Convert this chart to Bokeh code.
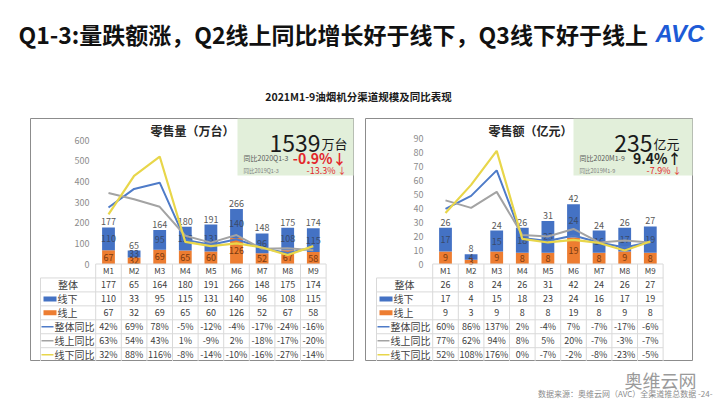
from bokeh.plotting import figure
from bokeh.models import Range1d, LinearAxis, FixedTicker, Spacer
from bokeh.layouts import column, row
from bokeh.embed import file_html
from bokeh.resources import INLINE
from bokeh.core.properties import value

# ---------------- data ----------------
months = ["M1", "M2", "M3", "M4", "M5", "M6", "M7", "M8", "M9"]
row_labels = ["整体", "线下", "线上", "整体同比", "线上同比", "线下同比"]

vol_total = [177, 65, 164, 180, 191, 266, 148, 175, 174]
vol_offline = [110, 33, 95, 115, 131, 140, 96, 108, 115]
vol_online = [67, 32, 69, 65, 60, 126, 52, 67, 58]
vol_yoy_total = [42, 69, 78, -5, -12, -4, -17, -24, -16]
vol_yoy_online = [63, 54, 43, 1, -9, 2, -18, -17, -20]
vol_yoy_offline = [32, 88, 116, -8, -14, -10, -16, -27, -14]
vol_ticks = [0, 100, 200, 300, 400, 500, 600]

amt_total = [26, 8, 24, 26, 31, 42, 24, 26, 27]
amt_offline = [17, 4, 15, 18, 23, 24, 16, 17, 19]
amt_online = [9, 3, 9, 8, 8, 19, 8, 9, 8]
amt_yoy_total = [60, 86, 137, 2, -4, 7, -7, -17, -6]
amt_yoy_online = [77, 62, 94, 8, 5, 20, -7, -3, -7]
amt_yoy_offline = [52, 108, 176, 0, -7, -2, -8, -23, -5]
amt_ticks = [0, 10, 20, 30, 40, 50, 60, 70, 80, 90]

title_text = "Q1-3:量跌额涨，Q2线上同比增长好于线下，Q3线下好于线上"
subtitle_text = "2021M1-9油烟机分渠道规模及同比表现"
source_text = "数据来源：奥维云网（AVC）全渠道推总数据 -24-"

vol_kpi = ("1539", "万台", "同比2020Q1-3", "-0.9%↓", "同比2019Q1-3", "-13.3% ↓")
amt_kpi = ("235", "亿元", "同比2020M1-9", "9.4%↑", "同比2019M1-9", "-7.9% ↓")

# ---------------- style ----------------
FONT = value("Noto Sans CJK SC")
BLUE = "#4472C4"
ORANGE = "#ED7D31"
L_BLUE = "#4E7BC8"
L_GRAY = "#A3A3A3"
L_YEL = "#E8D64A"
RED = "#E3262B"
GRID = "#D9D9D9"
TXT = "#404040"

T_PX, B_PX = 118, 361
ZERO_PX = 263.5
ROW_H = 13.95
STEP = 25.6


def make_panel(cfg, total, offline, online, yt, yon, yoff, ticks, kpi, ptitle):
    L, R = cfg["left"], cfg["right"]
    m1, k = cfg["m1"], cfg["k"]
    amax, plo, phi = cfg["amax"], cfg["plo"], cfg["phi"]

    def X(px):
        return (px - m1) / STEP + 1

    def Y(py):
        return (ZERO_PX - py) / k

    def P(y):
        return plo + y * (phi - plo) / amax

    p = figure(width=R - L, height=B_PX - T_PX,
               x_range=Range1d(X(L), X(R)), y_range=Range1d(Y(B_PX), Y(T_PX)),
               x_axis_type=None, y_axis_type=None, output_backend="svg",
               toolbar_location=None, min_border=0,
               outline_line_color="#8C8C8C", outline_line_width=1,
               background_fill_color="white", border_fill_color="white")
    p.extra_y_ranges = {"pct": Range1d(P(Y(B_PX)), P(Y(T_PX)))}

    # KPI box
    p.quad(left=X(cfg["box_l"]), right=X(R - 1), top=Y(T_PX), bottom=Y(175),
           fill_color="#E2EFDA", line_color=None)
    big, unit, l1, v1, l2, v2 = kpi
    p.text(x=[X(cfg["unit_x"])], y=[Y(143)], text=[big], text_font=FONT,
           text_font_size="23px", text_align="right", text_baseline="alphabetic",
           text_color="#1A1A1A")
    p.text(x=[X(cfg["unit_x"] + 1)], y=[Y(143)], text=[unit], text_font=FONT,
           text_font_size="13px", text_align="left", text_baseline="alphabetic",
           text_color="#1A1A1A")
    p.text(x=[X(cfg["box_l"] + 6)], y=[Y(157)], text=[l1], text_font=FONT,
           text_font_size="7px", text_align="left", text_baseline="middle",
           text_color="#595959")
    p.text(x=[X(cfg["val_r"])], y=[Y(157)], text=[v1], text_font=FONT,
           text_font_size="14px", text_font_style="bold", text_align="right",
           text_baseline="middle", text_color=cfg["v1_color"])
    p.text(x=[X(cfg["box_l"] + 6)], y=[Y(170)], text=[l2], text_font=FONT,
           text_font_size="5.5px", text_align="left", text_baseline="middle",
           text_color="#7F7F7F")
    p.text(x=[X(cfg["val_r"])], y=[Y(170)], text=[v2], text_font=FONT,
           text_font_size="9px", text_align="right", text_baseline="middle",
           text_color=RED)

    # panel title
    p.text(x=[X(cfg["title_x"])], y=[Y(130)], text=[ptitle], text_font=FONT,
           text_font_size="12px", text_font_style="bold", text_align="center",
           text_baseline="middle", text_color="#262626")

    idx = list(range(1, len(months) + 1))
    stack_top = [a + b for a, b in zip(online, offline)]
    p.vbar(x=idx, bottom=0, top=online, width=0.5, fill_color=ORANGE, line_color=None)
    p.vbar(x=idx, bottom=online, top=stack_top, width=0.5, fill_color=BLUE, line_color=None)

    p.text(x=idx, y=stack_top, text=[str(v) for v in total], text_font=FONT,
           text_font_size="9px", text_align="center", text_baseline="bottom",
           y_offset=-2, text_color="#595959")
    p.text(x=idx, y=[a + b / 2 for a, b in zip(online, offline)],
           text=[str(v) for v in offline], text_font=FONT, text_font_size="9px",
           text_align="center", text_baseline="middle", text_color="#3A4A6A")
    p.text(x=idx, y=[a / 2 for a in online], text=[str(v) for v in online],
           text_font=FONT, text_font_size="9px", text_align="center",
           text_baseline="middle", text_color="#7A3A10")

    # YoY lines on hidden secondary scale
    p.line(x=idx, y=yt, y_range_name="pct", line_color=L_BLUE, line_width=2)
    p.line(x=idx, y=yon, y_range_name="pct", line_color=L_GRAY, line_width=2)
    p.line(x=idx, y=yoff, y_range_name="pct", line_color=L_YEL, line_width=2.2)

    # axes
    yax = LinearAxis(ticker=FixedTicker(ticks=ticks), fixed_location=X(cfg["yax_x"]),
                     axis_line_color=None, major_tick_line_color=None,
                     minor_tick_line_color=None, major_tick_out=0, major_tick_in=0,
                     minor_tick_out=0, minor_tick_in=0, major_label_standoff=2,
                     major_label_text_font_size="9px", major_label_text_color="#8C8C8C",
                     major_label_text_font="Noto Sans CJK SC")
    p.add_layout(yax, "left")
    xax = LinearAxis(ticker=FixedTicker(ticks=idx),
                     major_label_overrides={i: m for i, m in zip(idx, months)},
                     fixed_location=0, axis_line_color=None,
                     major_tick_line_color=None, minor_tick_line_color=None,
                     major_tick_out=0, major_tick_in=0, minor_tick_out=0, minor_tick_in=0,
                     major_label_standoff=1, major_label_text_font_size="8px",
                     major_label_text_color=TXT, major_label_text_font="Noto Sans CJK SC")
    p.add_layout(xax, "below")

    # data table grid
    tl = cfg["tbl_l"]
    x_end = len(months) + 0.5
    x0 = 0.5
    hx0, hx1, hy0, hy1 = [], [], [], []
    for j in range(0, 8):
        py = ZERO_PX + j * ROW_H
        hx0.append(x0 if j == 0 else X(tl))
        hx1.append(x_end)
        hy0.append(Y(py))
        hy1.append(Y(py))
    for j in range(len(months) + 1):
        hx0.append(x0 + j)
        hx1.append(x0 + j)
        hy0.append(0)
        hy1.append(Y(B_PX))
    hx0.append(X(tl)); hx1.append(X(tl)); hy0.append(Y(ZERO_PX + ROW_H)); hy1.append(Y(B_PX))
    p.segment(x0=hx0, y0=hy0, x1=hx1, y1=hy1, line_color=GRID, line_width=1)

    rows = [
        [str(v) for v in total],
        [str(v) for v in offline],
        [str(v) for v in online],
        [f"{v}%" for v in yt],
        [f"{v}%" for v in yon],
        [f"{v}%" for v in yoff],
    ]
    for r, vals in enumerate(rows):
        cy = Y(ZERO_PX + ROW_H * (r + 1) + ROW_H / 2)
        p.text(x=idx, y=[cy] * len(idx), text=vals, text_font=FONT,
               text_font_size="9px", text_align="center", text_baseline="middle",
               text_color=TXT)

    colx = (tl + m1 - STEP / 2) / 2
    marks = [None, ("bar", BLUE), ("bar", ORANGE), ("line", L_BLUE),
             ("line", L_GRAY), ("line", L_YEL)]
    for r, lab in enumerate(row_labels):
        cpy = ZERO_PX + ROW_H * (r + 1) + ROW_H / 2
        cy = Y(cpy)
        mk = marks[r]
        if mk is None:
            p.text(x=[X(colx)], y=[cy], text=[lab], text_font=FONT, text_font_size="10px",
                   text_align="center", text_baseline="middle", text_color=TXT)
        elif mk[0] == "bar":
            p.quad(left=X(tl + 3), right=X(tl + 16), top=Y(cpy - 2.5), bottom=Y(cpy + 2.5),
                   fill_color=mk[1], line_color=None)
            p.text(x=[X(tl + 17)], y=[cy], text=[lab], text_font=FONT, text_font_size="10px",
                   text_align="left", text_baseline="middle", text_color=TXT)
        else:
            p.segment(x0=[X(tl + 1)], x1=[X(tl + 13)], y0=[cy], y1=[cy],
                      line_color=mk[1], line_width=1.5)
            p.text(x=[X(tl + 14)], y=[cy], text=[lab], text_font=FONT, text_font_size="10px",
                   text_align="left", text_baseline="middle", text_color=TXT)
    return p


left_cfg = dict(left=30, right=354, m1=108, k=124 / 600, amax=600, plo=-40, phi=140,
                box_l=237, unit_x=320, val_r=346, title_x=192, yax_x=91, tbl_l=40,
                v1_color=RED)
right_cfg = dict(left=365, right=693, m1=445, k=125.2 / 90, amax=90, plo=-50, phi=200,
                 box_l=573, unit_x=652, val_r=681, title_x=530, yax_x=425, tbl_l=376,
                 v1_color="#1A1A1A")

pl = make_panel(left_cfg, vol_total, vol_offline, vol_online, vol_yoy_total,
                vol_yoy_online, vol_yoy_offline, vol_ticks, vol_kpi, "零售量（万台）")
pr = make_panel(right_cfg, amt_total, amt_offline, amt_online, amt_yoy_total,
                amt_yoy_online, amt_yoy_offline, amt_ticks, amt_kpi, "零售额（亿元）")

# ---------------- header ----------------
top = figure(width=720, height=T_PX, x_range=Range1d(0, 720), y_range=Range1d(T_PX, 0),
             x_axis_type=None, y_axis_type=None, output_backend="svg",
             toolbar_location=None, min_border=0, outline_line_color=None)
top.text(x=[18], y=[33], text=[title_text], text_font=FONT, text_font_size="23px",
         text_font_style="bold", text_align="left", text_baseline="middle",
         text_color="#111111")
top.text(x=[655], y=[33], text=["AVC"], text_font=value("Liberation Sans"),
         text_font_size="24px", text_font_style="bold italic", text_align="left",
         text_baseline="middle", text_color="#1D5BD6")
top.text(x=[358], y=[96], text=[subtitle_text], text_font=FONT, text_font_size="10.5px",
         text_font_style="bold", text_align="center", text_baseline="middle",
         text_color="#1A1A1A")

# ---------------- footer ----------------
FH = 405 - B_PX
foot = figure(width=720, height=FH, x_range=Range1d(0, 720), y_range=Range1d(405, B_PX),
              x_axis_type=None, y_axis_type=None, output_backend="svg",
              toolbar_location=None, min_border=0, outline_line_color=None)
foot.text(x=[624], y=[379], text=["奥维云网"], text_font=FONT, text_font_size="18px",
          text_align="left", text_baseline="middle", text_color="#9A9A9A")
foot.text(x=[712], y=[393], text=[source_text], text_font=FONT, text_font_size="8px",
          text_align="right", text_baseline="middle", text_color="#8C8C8C")

H = B_PX - T_PX
layout = column(top,
                row(Spacer(width=30, height=H), pl, Spacer(width=11, height=H), pr,
                    Spacer(width=720 - 693, height=H)),
                foot)

open("out.html", "w").write(file_html(layout, INLINE))
